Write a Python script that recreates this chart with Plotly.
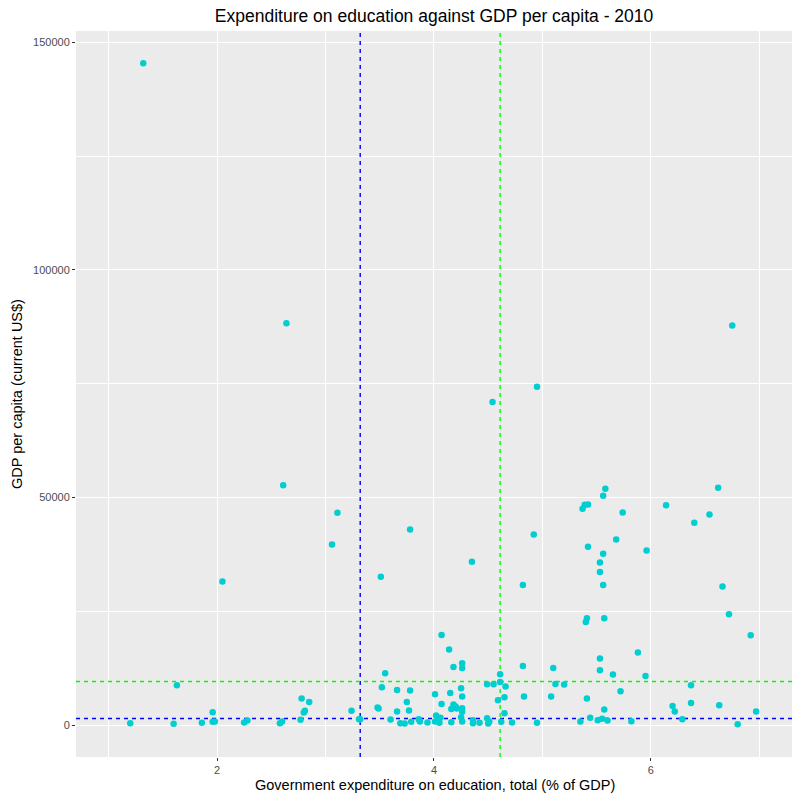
import plotly.graph_objects as go

# Government expenditure on education (% of GDP) vs GDP per capita (current US$), 2010
edu_spend = [
    1.20, 1.63, 1.60, 1.86, 1.96, 1.96, 1.98, 2.25, 2.28, 2.58,
    2.60, 2.78, 2.85, 2.80, 2.81, 2.77, 3.24, 3.31, 3.32, 3.55,
    3.52, 3.48, 3.49, 3.66, 3.78, 3.75, 3.66, 3.77, 3.60, 3.69,
    3.73, 3.79, 3.86, 3.87, 3.94, 4.01, 4.01, 4.02, 4.05, 4.05,
    4.06, 4.07, 4.14, 4.18, 4.26, 4.26, 4.15, 4.07, 4.25, 4.26,
    4.18, 4.16, 4.20, 4.21, 4.26, 4.26, 4.25, 4.16, 4.26, 4.36,
    4.36, 4.42, 4.49, 4.55, 4.49, 4.50, 4.51, 4.61, 4.61, 4.66,
    4.59, 4.65, 4.65, 4.62, 4.72, 4.82, 4.83, 4.95, 5.10, 5.12,
    5.20, 5.08, 5.53, 5.53, 5.88, 5.65, 5.95, 5.72, 5.41, 5.57,
    5.44, 5.51, 5.55, 5.60, 5.35, 5.82, 6.92, 6.37, 6.20, 6.22,
    6.37, 6.29, 6.63, 6.80, 6.97, 5.58, 5.56, 5.39, 5.42, 5.37,
    5.74, 6.14, 6.62, 6.54, 6.40, 4.92, 5.68, 5.42, 5.56, 5.96,
    5.53, 5.53, 4.82, 5.56, 6.66, 6.72, 5.41, 5.40, 5.57, 1.32,
    2.64, 6.75, 4.95, 4.54, 2.61, 3.11, 3.06, 3.78, 2.05, 3.51,
    4.35,
]
gdp_pc = [
    440, 8770, 290, 500, 2850, 720, 810, 590, 1030, 440,
    810, 5860, 5110, 2790, 3140, 1160, 3140, 1320, 1300, 11400,
    8330, 3880, 3660, 7740, 7610, 5110, 3000, 3220, 1250, 440,
    370, 720, 1320, 810, 590, 6800, 810, 2130, 1540, 500,
    1600, 19800, 16600, 12790, 13600, 12570, 7080, 4670, 8110, 6290,
    4540, 3570, 4100, 3660, 3730, 2920, 1750, 660, 810, 1100,
    440, 500, 8990, 8990, 1540, 370, 810, 11180, 9500, 8490,
    5480, 6140, 2630, 720, 590, 13000, 6290, 500, 12570, 9060,
    8930, 6290, 14630, 12060, 15940, 11120, 10810, 7460, 5860, 3440,
    1600, 1100, 1380, 1030, 810, 880, 19740, 8770, 4230, 3000,
    4890, 1320, 4390, 220, 3000, 51910, 50370, 48400, 48470, 47520,
    46710, 48310, 52130, 46270, 44450, 41890, 40790, 39190, 37650, 38380,
    35750, 33620, 30770, 30770, 30480, 24340, 23470, 22650, 23470, 145400,
    88310, 87790, 74340, 70990, 52700, 46640, 39690, 42980, 31580, 32610,
    35900,
]

# reference lines
blue_x = 3.32
blue_y = 1470
green_x = 4.61
green_y = 9580

x_ticks = [2, 4, 6]
y_ticks = [0, 50000, 100000, 150000]
x_range = [0.70, 7.31]
y_range = [-7000, 152500]

fig = go.Figure()

dash = dict(width=1.4, dash="4px,4px")
for v, col in [(blue_x, "#0000FF"), (green_x, "#00FF00")]:
    fig.add_trace(go.Scatter(x=[v, v], y=y_range, mode="lines",
                             line=dict(dash, color=col), showlegend=False, hoverinfo="skip"))
for h, col in [(blue_y, "#0000FF"), (green_y, "#00FF00")]:
    fig.add_trace(go.Scatter(x=x_range, y=[h, h], mode="lines",
                             line=dict(dash, color=col), showlegend=False, hoverinfo="skip"))

fig.add_trace(go.Scatter(
    x=edu_spend, y=gdp_pc, mode="markers",
    marker=dict(color="#00CED1", size=6.5, line=dict(width=0)),
    showlegend=False, hoverinfo="x+y",
))

axis_common = dict(
    showgrid=True, gridcolor="white", gridwidth=1.1,
    zeroline=False, showline=False, automargin=False,
    ticks="outside", ticklen=3, tickwidth=1, tickcolor="#333333",
    tickfont=dict(family="Liberation Sans", size=11, color="#4D4D4D"),
)

# page body has an 8px margin, so the figure is 792 wide/high
fig.update_layout(
    width=792, height=792,
    margin=dict(l=68, r=7, t=23, b=43),
    paper_bgcolor="white", plot_bgcolor="#EBEBEB",
    font=dict(family="Liberation Sans", color="black"),
    title=dict(text="Expenditure on education against GDP per capita - 2010",
               x=0.538, xanchor="center", y=1, yanchor="top", pad=dict(t=2),
               font=dict(size=17.5, color="black")),
    xaxis=dict(axis_common, range=x_range, tickvals=x_ticks,
               minor=dict(tickvals=[1, 3, 5, 7], showgrid=True, gridcolor="white",
                          gridwidth=0.55, ticks="")),
    yaxis=dict(axis_common, range=y_range, tickvals=y_ticks,
               ticktext=[str(t) for t in y_ticks],
               minor=dict(tickvals=[25000, 75000, 125000], showgrid=True, gridcolor="white",
                          gridwidth=0.55, ticks="")),
    annotations=[
        dict(text="Government expenditure on education, total (% of GDP)",
             xref="paper", yref="paper", x=0.5, y=0, xanchor="center", yanchor="middle",
             yshift=-28, showarrow=False, font=dict(size=14.5, color="black")),
        dict(text="GDP per capita (current US$)", textangle=-90,
             xref="paper", yref="paper", x=0, y=0.5, xanchor="center", yanchor="middle",
             xshift=-59, showarrow=False, font=dict(size=14.5, color="black")),
    ],
)

fig.write_html("out.html")
